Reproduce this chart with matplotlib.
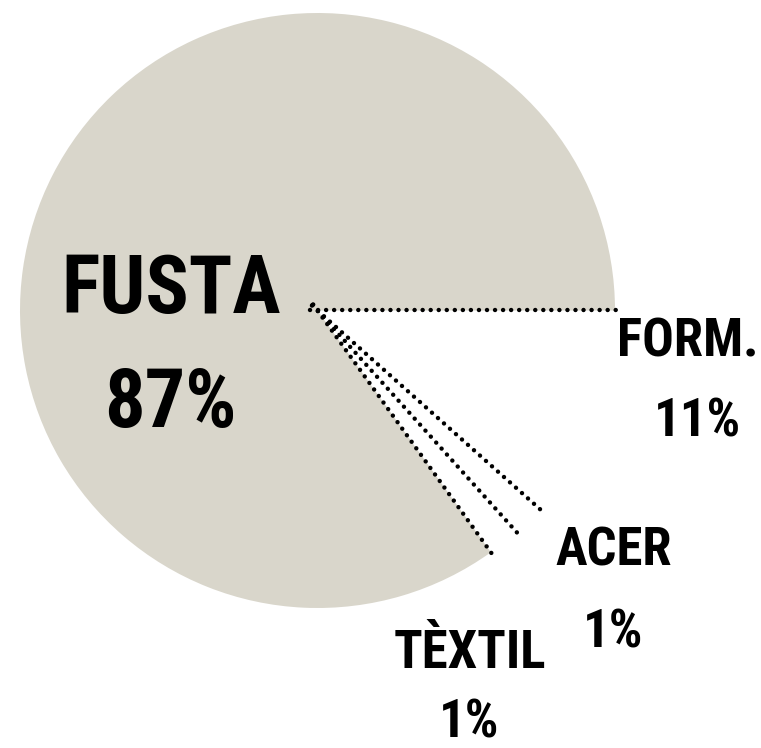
import matplotlib
matplotlib.use("Agg")
import matplotlib.pyplot as plt
from matplotlib import font_manager as fm
import numpy as np

# pie slices (clockwise from 3 o'clock), shares as drawn in the picture
materials = ["FORM.", "ACER", "TÈXTIL", "FUSTA"]
shares = [11.6, 1.75, 1.75, 84.9]
pct_labels = ["11%", "1%", "1%", "87%"]

grey = "#d9d6cb"
slice_colors = ["white", "white", "white", grey]

# pick the narrowest bold family that is installed
installed = {f.name for f in fm.fontManager.ttflist}
font, stretch = "Roboto", "normal"
for cand in ["Liberation Sans Narrow", "Roboto Condensed", "Open Sans Condensed",
             "Noto Sans ExtraCondensed", "Noto Sans Condensed", "DejaVu Sans Condensed"]:
    if cand in installed:
        font = cand
        break
else:
    cond = [f for f in fm.fontManager.ttflist
            if f.name == "Noto Sans" and "condensed" in str(f.stretch).lower()]
    if cond:
        font, stretch = "Noto Sans", "extra-condensed"

fig = plt.figure(figsize=(7.61, 7.48), dpi=100)
ax = fig.add_axes([0, 0, 1, 1])

wedges, _ = ax.pie(shares, colors=slice_colors, startangle=0, counterclock=False,
                   radius=1.0, wedgeprops=dict(linewidth=0))

# dotted lines along the edges of the small slices
edges = sorted(set(round(a, 4) for w in wedges[:3] for a in (w.theta1, w.theta2)))
for ang in edges:
    t = np.deg2rad(ang)
    ax.plot([-0.025 * np.cos(t), 1.02 * np.cos(t)], [-0.025 * np.sin(t), 1.02 * np.sin(t)],
            color="black", lw=3.2, linestyle=(0, (0.01, 1.8)),
            dash_capstyle="round", solid_capstyle="round")

# pie centre and radius in pixels, used to place the labels
cx, cy, r = 317.5, 310.5, 297.5
W, H = 761, 748

ax.set_xlim(-cx / r, (W - cx) / r)
ax.set_ylim((cy - H) / r, cy / r)
ax.axis("off")


def px(x, y):
    return (x - cx) / r, (cy - y) / r


# label positions (centre x, baseline y) and widths in the reference, pixels
name_pos = [(688, 357), (614, 566), (470, 668), (171, 313)]
pct_pos = [(697, 437), (613, 648), (469, 737), (170, 427)]
name_w = [113, 96, 128, 164]
pct_w = [70, 50, 52, 114]
big = [False, False, False, True]

texts = []
for i in range(len(materials)):
    fs = 58 if big[i] else 38
    for s, pos, w in [(materials[i], name_pos[i], name_w[i]), (pct_labels[i], pct_pos[i], pct_w[i])]:
        t = ax.text(*px(*pos), s, ha="center", va="baseline", fontsize=fs,
                    fontweight="bold", family=font, fontstretch=stretch, color="black")
        texts.append((t, w, big[i]))

# shrink each group so no label is much wider than in the reference
fig.canvas.draw()
rend = fig.canvas.get_renderer()
for grp, allow in ((True, 1.35), (False, 1.3)):
    k = min(1.0, min(w * allow / t.get_window_extent(rend).width
                     for t, w, b in texts if b == grp))
    for t, w, b in texts:
        if b == grp:
            t.set_fontsize(t.get_fontsize() * k)

fig.savefig("out.png", dpi=100)
